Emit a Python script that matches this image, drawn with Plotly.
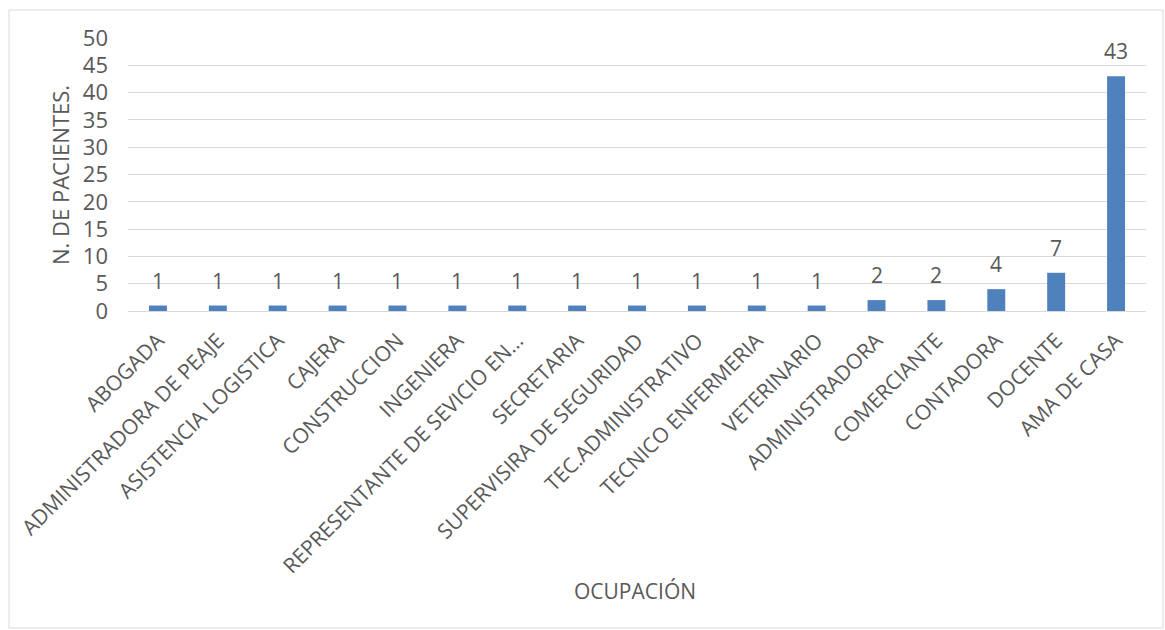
import plotly.graph_objects as go

categories = ["ABOGADA", "ADMINISTRADORA DE PEAJE", "ASISTENCIA LOGISTICA", "CAJERA",
              "CONSTRUCCION", "INGENIERA", "REPRESENTANTE DE SEVICIO EN…", "SECRETARIA",
              "SUPERVISIRA DE SEGURIDAD", "TEC.ADMINISTRATIVO", "TECNICO ENFERMERIA",
              "VETERINARIO", "ADMINISTRADORA", "COMERCIANTE", "CONTADORA", "DOCENTE", "AMA DE CASA"]
values = [1, 1, 1, 1, 1, 1, 1, 1, 1, 1, 1, 1, 2, 2, 4, 7, 43]
y_ticks = [0, 5, 10, 15, 20, 25, 30, 35, 40, 45, 50]

FONT = "Open Sans"
GRAY = "#595959"
L, R, T, B = 128, 1146, 38, 311
W, H = 1165, 630
pw, ph = R - L, B - T

def px(x):
    return (x - L) / pw

def py(y):
    return (B - y) / ph

fig = go.Figure(go.Bar(
    x=categories, y=values, marker_color="#4F81BD", marker_line_width=0,
))

for c, v in zip(categories, values):
    fig.add_annotation(x=c, y=v, text=str(v), showarrow=False, yanchor="bottom",
                       xanchor="center", yshift=9,
                       font=dict(family=FONT, size=21, color=GRAY))

fig.update_layout(
    width=W, height=H, autosize=False,
    margin=dict(l=L, r=W - R, t=T, b=H - B),
    paper_bgcolor="white", plot_bgcolor="white",
    bargap=0.70, showlegend=False,
    font=dict(family=FONT, color=GRAY),
)
fig.update_yaxes(range=[0, 50], tickvals=y_ticks, showgrid=True, gridcolor="#d9d9d9",
                 gridwidth=1, zeroline=False, showline=False,
                 tickfont=dict(family=FONT, size=22, color=GRAY), ticks="",
                 ticklabelstandoff=19)
fig.update_xaxes(tickangle=-45, showline=True, linecolor="#d9d9d9", linewidth=1,
                 tickfont=dict(family=FONT, size=21, color=GRAY), ticks="",
                 ticklabelstandoff=8, ticklabelshift=0)

fig.add_annotation(text="N. DE PACIENTES.", xref="paper", yref="paper",
                   x=px(60), y=py(175), textangle=-90, showarrow=False,
                   xanchor="center", yanchor="middle",
                   font=dict(family=FONT, size=22, color=GRAY))
fig.add_annotation(text="OCUPACIÓN", xref="paper", yref="paper",
                   x=px(635), y=py(591), showarrow=False,
                   xanchor="center", yanchor="middle",
                   font=dict(family=FONT, size=21, color=GRAY))
fig.add_shape(type="rect", xref="paper", yref="paper",
              x0=px(9), x1=px(1163), y0=py(628), y1=py(10),
              line=dict(color="#d9d9d9", width=1), fillcolor="rgba(0,0,0,0)", layer="below")

fig.write_html("out.html")
